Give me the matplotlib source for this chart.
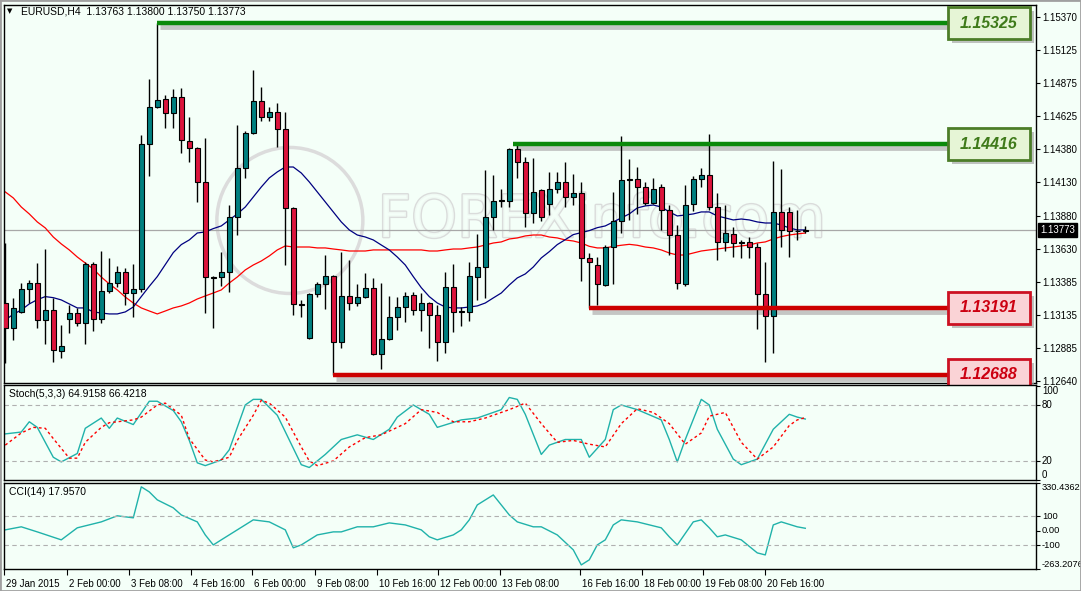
import matplotlib
matplotlib.use("Agg")
import matplotlib.pyplot as plt
import matplotlib.patheffects as pe
import matplotlib.transforms as mtransforms
from matplotlib.patches import Rectangle, Ellipse
import numpy as np

# DATA
opens = [1.13225, 1.13038, 1.13158, 1.1333, 1.13375, 1.13098, 1.13173, 1.12865, 1.13105, 1.1315,
         1.13075, 1.13518, 1.13105, 1.13315, 1.13375, 1.13458, 1.133, 1.1333, 1.14418, 1.14695,
         1.14755, 1.1465, 1.1477, 1.1444, 1.14388, 1.14133, 1.1342, 1.1342, 1.13458, 1.1387,
         1.14238, 1.145, 1.1474, 1.1462, 1.14658, 1.1453, 1.13938, 1.1321, 1.12963, 1.13293,
         1.13368, 1.13428, 1.12933, 1.13278, 1.13225, 1.1327, 1.13338, 1.12843, 1.12955, 1.1312,
         1.13195, 1.13285, 1.13173, 1.13225, 1.13135, 1.12933, 1.13345, 1.13158, 1.13158, 1.1342,
         1.13495, 1.1387, 1.1399, 1.1399, 1.1438, 1.14283, 1.139, 1.14073, 1.13968, 1.1408,
         1.14133, 1.1402, 1.1405, 1.13563, 1.1351, 1.1336, 1.13645, 1.1384, 1.14148, 1.14155,
         1.14095, 1.13975, 1.14095, 1.13923, 1.13735, 1.13368, 1.13968, 1.14155, 1.14185, 1.13945,
         1.13683, 1.13743, 1.13683, 1.13683, 1.13645, 1.13293, 1.13128, 1.13908, 1.13908, 1.13765,
         1.13763]
highs = [1.13675, 1.13263, 1.13375, 1.13398, 1.13525, 1.1363, 1.13263, 1.1306, 1.1321, 1.13188,
         1.13533, 1.13533, 1.13615, 1.13563, 1.13503, 1.13488, 1.13518, 1.14485, 1.14905, 1.15325,
         1.14785, 1.1483, 1.14838, 1.1462, 1.14395, 1.14463, 1.13425, 1.13608, 1.1396, 1.1456,
         1.14515, 1.14973, 1.14845, 1.14695, 1.14725, 1.1466, 1.13945, 1.1325, 1.133, 1.13383,
         1.13585, 1.13435, 1.13608, 1.13548, 1.13368, 1.1345, 1.13413, 1.13375, 1.13278, 1.1327,
         1.13308, 1.13308, 1.133, 1.13233, 1.1321, 1.13458, 1.13518, 1.13195, 1.13533, 1.13743,
         1.14223, 1.14185, 1.1408, 1.14388, 1.14416, 1.1432, 1.14313, 1.1408, 1.14208, 1.14208,
         1.14283, 1.1419, 1.14133, 1.136, 1.1357, 1.1366, 1.14058, 1.14478, 1.14305, 1.14245,
         1.14133, 1.14163, 1.14118, 1.1396, 1.1381, 1.1411, 1.14178, 1.14238, 1.14493, 1.1405,
         1.1396, 1.13795, 1.137, 1.1372, 1.13675, 1.13533, 1.1429, 1.1423, 1.13945, 1.13923,
         1.138]
lows = [1.12775, 1.12948, 1.1315, 1.13225, 1.13038, 1.12918, 1.12783, 1.12813, 1.13, 1.13053,
        1.12918, 1.13015, 1.13075, 1.133, 1.13345, 1.1321, 1.1312, 1.13308, 1.14178, 1.1469,
        1.14538, 1.14538, 1.1435, 1.14283, 1.13983, 1.1315, 1.13038, 1.13353, 1.13308, 1.13735,
        1.14163, 1.14493, 1.1459, 1.1459, 1.14395, 1.1351, 1.13135, 1.1312, 1.12955, 1.1327,
        1.1318, 1.12688, 1.12888, 1.13173, 1.13203, 1.13263, 1.12835, 1.1273, 1.12948, 1.13023,
        1.13083, 1.13135, 1.13015, 1.12888, 1.1279, 1.1285, 1.13008, 1.13053, 1.1309, 1.1325,
        1.13263, 1.13773, 1.13945, 1.13945, 1.14163, 1.13795, 1.13825, 1.1384, 1.13885, 1.1405,
        1.13945, 1.1396, 1.1339, 1.13191, 1.1321, 1.13353, 1.13368, 1.1375, 1.13848, 1.13893,
        1.1396, 1.1397, 1.13773, 1.13585, 1.1333, 1.13353, 1.13915, 1.14095, 1.13923, 1.13548,
        1.13615, 1.1357, 1.13563, 1.13563, 1.1303, 1.12783, 1.1285, 1.13645, 1.1357, 1.137,
        1.1375]
closes = [1.13038, 1.13188, 1.1333, 1.13375, 1.13098, 1.13173, 1.12873, 1.12903, 1.1315, 1.13075,
          1.13518, 1.13105, 1.13315, 1.13375, 1.13458, 1.133, 1.1333, 1.14418, 1.14695, 1.14748,
          1.1465, 1.1477, 1.14448, 1.14388, 1.14133, 1.1342, 1.13415, 1.13458, 1.1387, 1.14238,
          1.145, 1.1474, 1.1462, 1.14658, 1.1453, 1.13938, 1.13218, 1.13215, 1.13293, 1.13368,
          1.13428, 1.12933, 1.13278, 1.13225, 1.1327, 1.13338, 1.12843, 1.12955, 1.1312, 1.13195,
          1.13278, 1.13173, 1.13225, 1.13135, 1.12933, 1.13345, 1.13158, 1.13163, 1.13428, 1.13495,
          1.1387, 1.1399, 1.13995, 1.1438, 1.14283, 1.139, 1.14058, 1.1387, 1.1408, 1.14133,
          1.1402, 1.1405, 1.13563, 1.13533, 1.13368, 1.13645, 1.1384, 1.14148, 1.14155, 1.14095,
          1.13975, 1.1408, 1.13923, 1.13735, 1.13375, 1.1396, 1.14155, 1.14185, 1.13945, 1.13683,
          1.1375, 1.13675, 1.13678, 1.13645, 1.13293, 1.13128, 1.13908, 1.13773, 1.13765, 1.13763,
          1.13773]

ma_blue = [1.13098, 1.1314, 1.13173, 1.13218, 1.1325, 1.13273, 1.13265, 1.13248, 1.13218, 1.13188,
           1.13188, 1.13158, 1.1315, 1.13143, 1.13143, 1.13158, 1.13195, 1.13273, 1.1335, 1.13423,
           1.13513, 1.13603, 1.13663, 1.13698, 1.1375, 1.13758, 1.13783, 1.13803, 1.13848, 1.13893,
           1.13945, 1.1402, 1.14095, 1.14163, 1.14208, 1.14245, 1.14245, 1.142, 1.14133, 1.14058,
           1.13983, 1.13908, 1.13833, 1.13773, 1.13735, 1.1372, 1.13698, 1.1366, 1.13623, 1.1357,
           1.1351, 1.13423, 1.1334, 1.13273, 1.13225, 1.13195, 1.13188, 1.13188, 1.13195, 1.13203,
           1.13225, 1.13263, 1.133, 1.1336, 1.13413, 1.13443, 1.13495, 1.13563, 1.1361, 1.13663,
           1.137, 1.13738, 1.13753, 1.13768, 1.1379, 1.13803, 1.13833, 1.13863, 1.13893, 1.13938,
           1.13953, 1.1396, 1.13945, 1.13908, 1.13878, 1.13885, 1.13893, 1.13908, 1.13908, 1.13878,
           1.13863, 1.13848, 1.13855, 1.13848, 1.13833, 1.13825, 1.13825, 1.1381, 1.13788, 1.13773,
           1.13773]
ma_red = [1.14058, 1.14013, 1.13945, 1.13893, 1.13833, 1.13788, 1.1372, 1.13668, 1.13623, 1.1357,
          1.13525, 1.1348, 1.1342, 1.13368, 1.13323, 1.1327, 1.13225, 1.13188, 1.13165, 1.13143,
          1.13165, 1.13188, 1.13203, 1.13225, 1.13255, 1.13278, 1.133, 1.13323, 1.13375, 1.1342,
          1.13473, 1.1351, 1.1354, 1.13578, 1.13623, 1.13653, 1.13645, 1.13645, 1.13645, 1.13638,
          1.13638, 1.1363, 1.13623, 1.13615, 1.13615, 1.13615, 1.13623, 1.13623, 1.13623, 1.13623,
          1.13623, 1.13623, 1.13623, 1.13615, 1.13615, 1.13623, 1.1363, 1.1363, 1.13638, 1.13645,
          1.1366, 1.13675, 1.13683, 1.13705, 1.13713, 1.13728, 1.13735, 1.13735, 1.1372, 1.13713,
          1.13698, 1.1369, 1.13675, 1.1365, 1.13638, 1.13638, 1.1365, 1.13658, 1.13665, 1.13658,
          1.13645, 1.13638, 1.13623, 1.136, 1.13585, 1.13585, 1.136, 1.13615, 1.13623, 1.1363,
          1.13638, 1.13645, 1.13653, 1.1366, 1.13675, 1.13683, 1.13705, 1.13723, 1.13735, 1.13743,
          1.1375]

stoch_main_bars = [0, 2, 3, 4, 6, 7, 9, 10, 12, 13, 14, 16, 18, 19, 21, 22, 23, 24, 25, 27, 28, 30, 31, 32,
                   34, 37, 38, 40, 42, 44, 46, 48, 49, 51, 52, 53, 54, 57, 59, 62, 63, 64, 65, 67, 68, 70,
                   72, 73, 75, 76, 77, 79, 82, 83, 84, 85, 87, 88, 89, 91, 92, 94, 96, 98, 99, 100]
stoch_main = [49, 51, 62, 56, 24, 19, 28, 55, 66, 55, 66, 59, 84, 84, 74, 62, 42, 18, 15, 21, 32, 80, 86, 86,
              69, 16, 13, 27, 43, 48, 43, 54, 67, 80, 75, 70, 56, 64, 66, 75, 88, 86, 70, 27, 37, 43,
              43, 24, 43, 75, 80, 75, 64, 43, 19, 43, 86, 80, 54, 22, 16, 22, 54, 70, 67, 64.9158]
stoch_sig_bars = [0, 2, 3.5, 5, 6, 8, 9, 10, 12, 13, 16, 17, 19, 20, 22, 23, 25, 26, 28, 29, 31, 32, 33, 35,
                  37, 38, 39, 41, 43, 45, 47, 50, 52, 54, 56, 58, 60, 63, 65, 67, 69, 71, 73, 75, 77, 79,
                  81, 83, 85, 87, 88, 90, 92, 94, 96, 98, 99, 100]
stoch_sig = [37, 50, 56, 55, 44, 23, 23, 40, 56, 61, 64, 67, 80, 82, 69, 44, 21, 19, 24, 42, 69, 85, 82, 67,
             35, 20, 15, 20, 35, 45, 48, 60, 75, 72, 62, 62, 66, 75, 82, 60, 40, 42, 38, 35, 60, 76,
             72, 60, 38, 50, 68, 72, 40, 22, 35, 58, 64, 66.4218]

cci_bars = [0, 2, 4, 7, 9, 12, 14, 16, 17, 18, 19, 21, 22, 24, 25, 26, 27, 29, 31, 33, 35, 36, 37, 39,
            41, 42, 44, 46, 48, 50, 52, 53, 54, 56, 57, 58, 59, 61, 62, 63, 64, 66, 67, 69, 71, 72,
            73, 74, 75, 76, 77, 79, 82, 83, 84, 86, 87, 88, 89, 90, 92, 94, 95, 96, 97, 99, 100]
cci = [7, 28, -7, -62, 21, 62, 104, 90, 304, 269, 214, 159, 110, 62, -28, -97, -62, 7, 76, 62, 7, -117,
       -97, -28, -7, -7, 28, 28, 55, 41, 7, -41, -62, -28, 7, 76, 179, 248, 179, 110, 62, 28, 28, -28,
       -131, -235, -200, -97, -62, 41, 76, 62, 21, -41, -97, 62, 76, 21, -41, -28, -62, -152, -166, 41,
       62, 28, 17.957]

levels_green = [1.15325, 1.14416]
levels_green_start = [19, 63.5]
levels_red = [1.13191, 1.12688]
levels_red_start = [73, 41]

price_ticks = [1.15370, 1.15125, 1.14875, 1.14625, 1.14380, 1.14130, 1.13880, 1.13630, 1.13385,
               1.13135, 1.12885, 1.12640]
time_tick_bars = [-0.1, 7.7, 15.5, 23.2, 30.8, 38.7, 46.5, 54.1, 61.9, 71.8, 79.6, 87.2, 95.0]
time_tick_labels = ["29 Jan 2015", "2 Feb 00:00", "3 Feb 08:00", "4 Feb 16:00", "6 Feb 00:00",
                    "9 Feb 08:00", "10 Feb 16:00", "12 Feb 00:00", "13 Feb 08:00", "16 Feb 16:00",
                    "18 Feb 00:00", "19 Feb 08:00", "20 Feb 16:00"]

BG = "#F4FFF8"
W, H = 1081, 591
FONT = "Liberation Sans"
plt.rcParams["font.family"] = [FONT, "DejaVu Sans"]


def frac(px_left, px_top, px_right, px_bottom):
    return [px_left / W, 1 - px_bottom / H, (px_right - px_left) / W, (px_bottom - px_top) / H]


fig = plt.figure(figsize=(W / 100, H / 100), dpi=100, facecolor=BG)
ax = fig.add_axes(frac(4, 5, 1036, 383), facecolor=BG)
ax_st = fig.add_axes(frac(4, 385, 1036, 480), facecolor=BG, sharex=ax)
ax_cci = fig.add_axes(frac(4, 483, 1036, 569), facecolor=BG, sharex=ax)

ax.set_xlim(-0.16, 128.84)
ax.set_ylim(1.154975 - 0.000075 * 383, 1.154975 - 0.000075 * 5)
ax_st.set_ylim(-0.4, 101.4)
ax_cci.set_ylim(-263.2076, 330.4362)

n = len(closes)
idx = np.arange(n)
o = np.array(opens); c = np.array(closes); h = np.array(highs); l = np.array(lows)
up = c >= o

# watermark
wm = ax.text(0.362, 0.43, "FOREXinfo.com", transform=ax.transAxes, fontsize=42, color=BG,
             family="DejaVu Sans", va="center", ha="left", zorder=0.5, alpha=0.85)
wm.set_path_effects([pe.withStroke(linewidth=2.0, foreground="#D6D6D6")])
ax.add_patch(Ellipse((0.277, 0.43), 146 / 1032, 146 / 378, transform=ax.transAxes, fill=False,
                     ec="#DCDCDC", lw=2.5, zorder=0.5))

# current price line
ax.axhline(closes[-1], color="#A8A8A8", lw=0.9, zorder=1)

# moving averages
ax.plot(idx, ma_red, color="#FF0000", lw=0.9, zorder=2)
ax.plot(idx, ma_blue, color="#000080", lw=0.9, zorder=2)

# candles
ax.vlines(idx, l, h, color="black", lw=1, zorder=3)
body_h = np.maximum(np.abs(c - o), 0.00003)
ax.bar(idx, body_h, bottom=np.minimum(o, c), width=0.6,
       color=np.where(up, "#008080", "#DC143C"), edgecolor="black", lw=0.8, zorder=4)

# support / resistance levels with boxes
box_x0, box_x1 = 0.915, 0.994
xend = ax.transData.inverted().transform(ax.transAxes.transform((box_x0, 0)))[0]
shadow = mtransforms.offset_copy(ax.transData, fig=fig, x=3, y=-4, units="dots")
blend = mtransforms.blended_transform_factory(ax.transAxes, ax.transData)
blend_sh = mtransforms.offset_copy(blend, fig=fig, x=4, y=-4, units="dots")
half = 16 * 0.000075
specs = ([(v, s, "#0B8A0B", "#E6F5D6", "#4C7D28", "#3F7A1A") for v, s in zip(levels_green, levels_green_start)] +
         [(v, s, "#CC0000", "#FAD3D6", "#CC1122", "#CC0011") for v, s in zip(levels_red, levels_red_start)])
for lev, start, col, fc, ec, tc in specs:
    ax.plot([start, xend], [lev, lev], color="#B8B8B8", lw=3.5, transform=shadow, zorder=2.5,
            solid_capstyle="butt", clip_on=False, alpha=0.8)
    ax.plot([start, xend], [lev, lev], color=col, lw=3.2, zorder=5, solid_capstyle="butt", clip_on=False)
    ax.add_patch(Rectangle((box_x0, lev - half), box_x1 - box_x0, 2 * half, transform=blend_sh,
                           fc="#A8A8A8", ec="none", alpha=0.7, clip_on=False, zorder=8))
    ax.add_patch(Rectangle((box_x0, lev - half), box_x1 - box_x0, 2 * half, transform=blend,
                           fc=fc, ec=ec, lw=2, clip_on=False, zorder=9))
    ax.text((box_x0 + box_x1) / 2, lev, f"{lev:.5f}", transform=blend, ha="center", va="center",
            fontsize=11.5, style="italic", weight="bold", color=tc, zorder=10, clip_on=False)

# stochastic
ax_st.plot(stoch_main_bars, stoch_main, color="#20B2AA", lw=1)
ax_st.plot(stoch_sig_bars, stoch_sig, color="#FF0000", lw=1, dashes=(2, 2))
for lv in (80, 20):
    ax_st.axhline(lv, color="#B0B0B0", lw=0.8, dashes=(4, 3))

# CCI
ax_cci.plot(cci_bars, cci, color="#20B2AA", lw=1)
for lv in (100, -100):
    ax_cci.axhline(lv, color="#B0B0B0", lw=0.8, dashes=(4, 3))

# axes styling
for a in (ax, ax_st, ax_cci):
    for s in a.spines.values():
        s.set_color("black")
        s.set_linewidth(1)
    a.yaxis.tick_right()
    a.tick_params(axis="y", direction="out", length=3, width=0.8, labelsize=7, pad=1.2, colors="black")
    a.tick_params(axis="x", which="both", bottom=False, labelbottom=False)

ax.set_yticks(price_ticks)
ax.set_yticklabels([f"{t:.5f}" for t in price_ticks])
ax_st.set_yticks([100, 80, 20, 0])
ax_st.set_yticklabels(["100", "80", "20", "0"])
ax_cci.set_yticks([330.4362, 100, 0, -100, -263.2076])
ax_cci.set_yticklabels(["330.4362", "100", "0.00", "-100", "-263.2076"])
ax_cci.tick_params(axis="y", labelsize=6.7)
for a in (ax_st, ax_cci):
    labs = a.get_yticklabels()
    labs[0].set_verticalalignment("top")
    labs[-1].set_verticalalignment("bottom")
    for lab in labs[1:-1]:
        lab.set_verticalalignment("center")

ax_cci.tick_params(axis="x", bottom=True, labelbottom=True, direction="out", length=4, width=0.8,
                   labelsize=7, pad=3)
ax_cci.set_xticks(time_tick_bars)
ax_cci.set_xticklabels(time_tick_labels)
offs = mtransforms.ScaledTranslation(2 / 100, 0, fig.dpi_scale_trans)
for lab in ax_cci.get_xticklabels():
    lab.set_horizontalalignment("left")
    lab.set_transform(lab.get_transform() + offs)

# current price tag
ax.annotate(f"{closes[-1]:.5f}", xy=(1.0, closes[-1]), xycoords=blend, xytext=(3, 0),
            textcoords="offset points", ha="left", va="center", fontsize=7, color="white",
            bbox=dict(boxstyle="square,pad=0.2", fc="black", ec="black"), annotation_clip=False,
            zorder=11)

# panel captions
ax.text(0.003, 0.983, "\u25BC", transform=ax.transAxes, fontsize=5, va="center", ha="left",
        family="DejaVu Sans")
ax.text(0.016, 0.983, "EURUSD,H4  1.13763 1.13800 1.13750 1.13773", transform=ax.transAxes,
        fontsize=7.5, va="center", ha="left")
ax_st.text(0.005, 0.905, "Stoch(5,3,3) 64.9158 66.4218", transform=ax_st.transAxes, fontsize=7.5,
           va="center", ha="left")
ax_cci.text(0.005, 0.9, "CCI(14) 17.9570", transform=ax_cci.transAxes, fontsize=7.5,
            va="center", ha="left")

# outer window frame
fig.add_artist(Rectangle((0, 0), 1, 1, transform=fig.transFigure, fill=False, ec="#A0A0A0", lw=2))

fig.savefig("out.png", dpi=100, facecolor=BG)
